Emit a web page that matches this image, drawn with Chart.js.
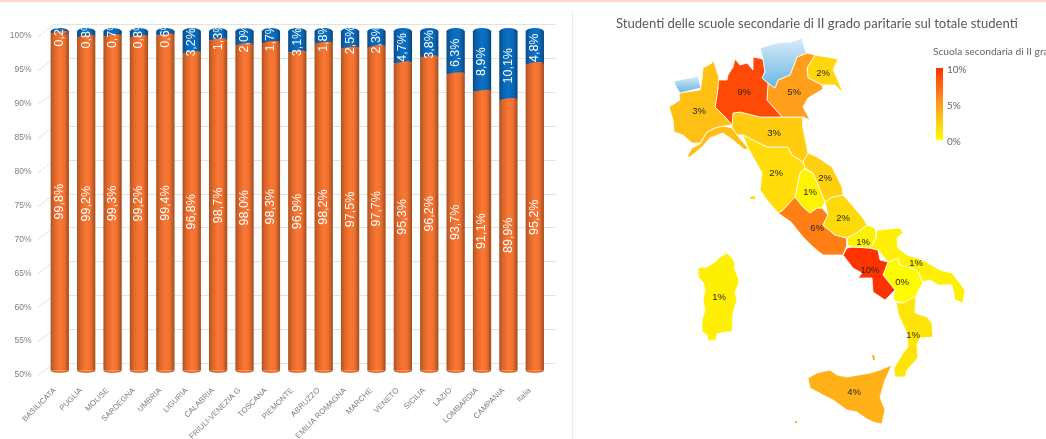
<!DOCTYPE html>
<html>
<head>
<meta charset="utf-8">
<title>Scuole secondarie paritarie</title>
<script src="https://cdnjs.cloudflare.com/ajax/libs/Chart.js/4.4.1/chart.umd.js"></script>
<style>
  html, body { margin: 0; padding: 0; background: #fff; overflow: hidden; }
  #page { position: relative; width: 1046px; height: 439px; overflow: hidden; font-family: "Liberation Sans", sans-serif; }
  #band { position: absolute; left: 0; top: 0; width: 100%; height: 2px; background: #fdd9c7; }
  #sep { position: absolute; left: 572px; top: 10px; width: 1px; height: 429px; background: #ececec; }
  #barsWrap { position: absolute; left: 0; top: 0; width: 572px; height: 439px; }
  #mapWrap { position: absolute; left: 573px; top: 0; width: 473px; height: 439px; }
  canvas { filter: blur(0.4px); }
  #mapTitle { position: absolute; left: 616px; top: 15px; font: 13.07px Lato, sans-serif; color: #595959; white-space: nowrap; }
  #legendTitle { position: absolute; left: 933px; top: 45px; font: 10.2px Lato, sans-serif; color: #666; white-space: nowrap; }
  #legendBar { position: absolute; left: 936px; top: 68px; width: 7px; height: 72px; background: linear-gradient(#ff3300, #ff9a1f 50%, #ffff00); }
  .legendTick { position: absolute; left: 947px; font: 10px Lato, sans-serif; color: #666; }
</style>
</head>
<body>
<div id="page">
  <div id="band"></div>
  <div id="sep"></div>
  <div id="barsWrap"><canvas id="bars"></canvas></div>
  <div id="mapWrap"><canvas id="map"></canvas></div>
  <div id="mapTitle"></div>
  <div id="legendTitle"></div>
  <div id="legendBar"></div>
</div>
<script>
// bar chart data
const categories = ["BASILICATA", "PUGLIA", "MOLISE", "SARDEGNA", "UMBRIA", "LIGURIA", "CALABRIA", "FRIULI-VENEZIA G",
  "TOSCANA", "PIEMONTE", "ABRUZZO", "EMILIA ROMAGNA", "MARCHE", "VENETO", "SICILIA", "LAZIO", "LOMBARDIA", "CAMPANIA", "Italia"];
const statali = [99.8, 99.2, 99.3, 99.2, 99.4, 96.8, 98.7, 98.0, 98.3, 96.9, 98.2, 97.5, 97.7, 95.3, 96.2, 93.7, 91.1, 89.9, 95.2];
const paritarie = [0.2, 0.8, 0.7, 0.8, 0.6, 3.2, 1.3, 2.0, 1.7, 3.1, 1.8, 2.5, 2.3, 4.7, 3.8, 6.3, 8.9, 10.1, 4.8];
const yTicks = [50, 55, 60, 65, 70, 75, 80, 85, 90, 95, 100];

// map data: share per region and the outlines
const mapTitle = "Studenti delle scuole secondarie di II grado paritarie sul totale studenti";
const legendTitle = "Scuola secondaria di II grado";
const legendTicks = ["10%", "5%", "0%"];
const regionShare = {
  Piemonte: 3.1, Liguria: 3.2, Lombardia: 8.9, Veneto: 4.7, Friuli: 2.0, Emilia: 2.5, Toscana: 1.7, Marche: 2.3, Umbria: 0.6,
  Abruzzo: 1.8, Lazio: 6.3, Molise: 0.7, Puglia: 0.8, Campania: 10.1, Basilicata: 0.2, Calabria: 1.3, Sardegna: 0.8, Sicilia: 3.8
};
const noData = {
  Valle: [[674,81],[690,78],[698,76],[701,88],[680,93],[676,87]],
  Trentino: [[760,48],[777,43],[792,42],[802,38],[805,50],[807,53],[797,57],[790,75],[778,80],[775,88],[768,83],[762,78],[765,72],[763,59]]
};
const outlines = {
  Piemonte: [[713,59],[719,78],[717,95],[715,107],[723,115],[732,125],[723,126],[715,128],[707,132],[700,143],[692,143],[683,135],[674,132],[673,120],[669,107],[680,100],[679,93],[700,90],[702,80],[703,68],[712,63]],
  Liguria: [[687,157],[692,148],[700,144],[707,132],[715,128],[723,126],[732,128],[737,135],[748,148],[745,150],[733,140],[723,133],[710,138],[702,147],[690,157]],
  Lombardia: [[735,59],[740,65],[747,63],[753,70],[753,57],[763,59],[765,72],[762,78],[768,83],[767,100],[782,117],[760,117],[740,112],[733,113],[732,125],[723,115],[715,107],[718,88],[717,80],[727,80],[728,75],[733,67]],
  Veneto: [[797,57],[807,53],[815,55],[807,68],[808,78],[822,85],[823,89],[808,98],[803,107],[810,120],[803,117],[782,117],[767,100],[768,83],[775,88],[778,80],[790,75]],
  Friuli: [[815,55],[838,59],[833,70],[837,78],[843,93],[835,85],[822,85],[808,78],[807,68]],
  Emilia: [[733,113],[740,112],[760,117],[782,117],[803,117],[803,128],[808,153],[803,162],[792,155],[788,147],[767,147],[743,135],[737,135],[732,128],[732,125]],
  Toscana: [[743,135],[767,147],[788,147],[792,155],[803,162],[805,168],[800,173],[797,187],[795,197],[783,210],[778,213],[767,200],[760,190],[762,173],[748,148]],
  Marche: [[803,162],[808,153],[817,157],[832,167],[842,187],[843,195],[832,197],[825,202],[818,185],[813,173],[805,168]],
  Umbria: [[802,168],[813,173],[818,185],[825,202],[822,208],[817,208],[810,213],[803,207],[795,197],[797,187],[800,173]],
  Abruzzo: [[832,197],[843,195],[852,205],[863,218],[867,225],[858,232],[847,238],[835,235],[823,225],[828,215],[825,202]],
  Lazio: [[778,213],[783,210],[793,197],[795,197],[803,207],[810,213],[817,208],[822,208],[828,215],[823,225],[835,235],[847,238],[847,245],[843,255],[823,255],[813,247],[803,237],[791,222]],
  Molise: [[858,232],[867,225],[875,228],[876,238],[870,248],[853,247],[847,245],[847,238]],
  Puglia: [[877,230],[900,228],[903,233],[897,238],[898,248],[907,255],[923,260],[940,270],[952,273],[965,290],[963,303],[955,300],[952,285],[938,285],[930,280],[923,282],[917,270],[900,265],[898,258],[888,262],[878,250],[870,248],[876,238]],
  Campania: [[847,248],[853,247],[870,248],[878,250],[880,260],[888,262],[883,275],[895,290],[885,300],[873,292],[872,278],[858,278],[862,273],[853,268],[843,255]],
  Basilicata: [[888,262],[898,258],[900,265],[917,270],[923,282],[916,296],[903,303],[893,300],[895,290],[883,275]],
  Calabria: [[896,302],[903,303],[912,298],[916,296],[915,313],[927,317],[932,323],[933,337],[920,338],[917,345],[918,358],[907,370],[905,377],[895,377],[894,368],[903,353],[908,347],[907,333],[903,325],[898,313]],
  Sardegna: [[727,253],[732,258],[735,263],[735,270],[739,280],[739,283],[735,292],[737,300],[733,313],[732,332],[725,332],[717,334],[716,340],[708,341],[707,335],[702,332],[702,320],[705,310],[703,300],[705,290],[703,282],[698,277],[698,268],[702,267],[707,267],[715,262],[720,257]],
  Sicilia: [[808,378],[817,373],[830,370],[837,375],[847,377],[870,373],[880,370],[892,365],[885,380],[880,397],[885,410],[882,424],[873,422],[867,419],[857,412],[847,410],[833,400],[823,395],[810,388]]
};
// small islands: owning region and outline
const islands = [
  ["Toscana", [[750,197],[755,196],[755,199],[750,199]]],
  ["Sicilia", [[795,421],[797,421],[797,423],[795,423]]],
  ["Sicilia", [[872,355],[874,355],[875,360],[873,360]]]
];
// where each region's label sits on the map (Liguria has none in the picture)
const labelRegions = ["Lombardia", "Piemonte", "Veneto", "Friuli", "Emilia", "Toscana", "Marche", "Umbria", "Abruzzo", "Lazio", "Molise", "Campania", "Puglia", "Basilicata", "Calabria", "Sardegna", "Sicilia"];
const labelAnchors = [[744,92],[699,111],[794,92],[823,73],[774,133],[776,173],[825,178],[810,192],[843,218],[817,228],[863,242],[870,270],[916,263],[902,282],[913,335],[719,297],[854,392]];

const BACK = 12;   // how far the rear wall sits above the axis labels
const LIFT = 4.5;  // how far the cylinders sit above the axis labels
const BAR_SHARE = 0.693;
const AXIS_FONT = "'Liberation Sans', sans-serif";

function cylinderFill(stops) {
  return (c) => {
    const xs = c.chart.scales.x;
    if (!xs || !(xs.width > 0)) return stops[2][1];
    const half = xs.width / categories.length * BAR_SHARE / 2;
    const mid = xs.getPixelForValue(c.dataIndex);
    if (!isFinite(mid)) return stops[2][1];
    const g = c.chart.ctx.createLinearGradient(mid - half, 0, mid + half, 0);
    stops.forEach((s) => g.addColorStop(s[0], s[1]));
    return g;
  };
}
const orangeStops = [[0, "#a9521f"], [0.18, "#d9652a"], [0.5, "#fb7733"], [0.75, "#ee7030"], [1, "#a04c1c"]];
const blueStops = [[0, "#0a4a86"], [0.2, "#0a62ae"], [0.5, "#0a72c6"], [0.78, "#0a66b6"], [1, "#094478"]];

const backWall = {
  id: "backWall",
  beforeDatasetsDraw(chart) {
    const ctx = chart.ctx, ys = chart.scales.y;
    ctx.save();
    ctx.strokeStyle = "#e2e2e2";
    ctx.lineWidth = 1;
    yTicks.forEach((v) => {
      const y = Math.round(ys.getPixelForValue(v)) + 0.5;
      ctx.beginPath();
      ctx.moveTo(38, y);
      ctx.lineTo(38 + 16, y - BACK);
      ctx.lineTo(556, y - BACK);
      ctx.stroke();
    });
    ctx.restore();
    // the cylinders are the library's own bars, lifted by the depth of the view
    ctx.save();
    ctx.translate(0, -LIFT);
  },
  afterDatasetsDraw(chart) {
    const ctx = chart.ctx, ys = chart.scales.y;
    const metaA = chart.getDatasetMeta(0), metaB = chart.getDatasetMeta(1);
    metaA.data.forEach((bar, i) => {
      const x = bar.x, r = bar.width / 2;
      const fillA = chart.data.datasets[0].backgroundColor({ chart, dataIndex: i });
      const fillB = chart.data.datasets[1].backgroundColor({ chart, dataIndex: i });
      // rounded foot
      ctx.fillStyle = fillA;
      ctx.beginPath();
      ctx.ellipse(x, ys.getPixelForValue(50), r, 2.5, 0, 0, Math.PI);
      ctx.fill();
      // top lid
      ctx.fillStyle = fillB;
      ctx.beginPath();
      ctx.ellipse(x, ys.getPixelForValue(100), r, 3.6, 0, 0, Math.PI * 2);
      ctx.fill();
      // join between the two segments, tilted up to the right
      ctx.fillStyle = fillA;
      ctx.beginPath();
      ctx.ellipse(x, ys.getPixelForValue(statali[i]), r, 1.7, -0.13, 0, Math.PI * 2);
      ctx.fill();
    });
    // value labels, centred on each segment and running upward
    ctx.fillStyle = "#fff";
    ctx.font = "12.5px 'Liberation Sans', sans-serif";
    ctx.textAlign = "center";
    ctx.textBaseline = "middle";
    const put = (x, y, v) => {
      ctx.save();
      ctx.translate(x, y);
      ctx.rotate(-Math.PI / 2);
      ctx.fillText(v.toFixed(1).replace(".", ",") + "%", 0, 0);
      ctx.restore();
    };
    metaA.data.forEach((bar, i) => {
      put(bar.x, ys.getPixelForValue((50 + statali[i]) / 2), statali[i]);
      put(metaB.data[i].x, ys.getPixelForValue(statali[i] + paritarie[i] / 2), paritarie[i]);
    });
    ctx.restore();
  }
};

new Chart(document.getElementById("bars"), {
  type: "bar",
  data: {
    labels: categories,
    datasets: [
      { label: "Statali", data: statali, backgroundColor: cylinderFill(orangeStops), borderWidth: 0 },
      { label: "Paritarie", data: paritarie, backgroundColor: cylinderFill(blueStops), borderWidth: 0 }
    ]
  },
  options: {
    responsive: true,
    maintainAspectRatio: false,
    animation: false,
    layout: { padding: { top: 36, right: 24, left: 0, bottom: 0 } },
    categoryPercentage: 1,
    barPercentage: BAR_SHARE,
    plugins: { legend: { display: false }, title: { display: false }, tooltip: { enabled: false } },
    scales: {
      x: {
        stacked: true,
        grid: { display: false },
        border: { display: false },
        ticks: { autoSkip: false, minRotation: 45, maxRotation: 45, color: "#808080", padding: 3, labelOffset: -5, font: { family: AXIS_FONT, size: 7.8 } },
        afterFit(scale) { scale.height = 64; }
      },
      y: {
        stacked: true,
        min: 50,
        max: 100,
        grid: { display: false },
        border: { display: false },
        ticks: { stepSize: 5, color: "#808080", padding: 7, font: { family: AXIS_FONT, size: 8.5 }, callback: (v) => v + "%" },
        afterFit(scale) { scale.width = 46.6; }
      }
    }
  },
  plugins: [backWall]
});

// colour ramp of the map, yellow at 0 to red at 10
function shareColor(v) {
  const t = Math.min(v / 10, 1);
  return "rgb(255," + Math.round(255 - 204 * t) + "," + Math.round(t < 0.5 ? 60 * t : 60 * (1 - t)) + ")";
}
const toPoints = (pts) => pts.concat([pts[0]]).map((p) => ({ x: p[0], y: p[1] }));
function shape(name, pts, color) {
  return { label: name, data: toPoints(pts), showLine: true, fill: "shape", tension: 0, pointRadius: 0, borderWidth: 0.8, borderColor: "#fff", backgroundColor: color };
}

const mapCtx = document.getElementById("map").getContext("2d");
const paleBlue = (top, bottom) => {
  const g = mapCtx.createLinearGradient(0, top, 0, bottom);
  g.addColorStop(0, "#d8ecf8");
  g.addColorStop(1, "#68b6e2");
  return g;
};

const mapSets = [
  shape("Valle", noData.Valle, paleBlue(76, 93)),
  shape("Trentino", noData.Trentino, paleBlue(38, 88))
];
Object.keys(outlines).forEach((name) => mapSets.push(shape(name, outlines[name], shareColor(regionShare[name]))));
islands.forEach((isl) => {
  const set = shape(isl[0], isl[1], shareColor(regionShare[isl[0]]));
  set.borderWidth = 0;
  mapSets.push(set);
});
mapSets.push({ label: "labels", data: labelAnchors.map((p) => ({ x: p[0], y: p[1] })), pointRadius: 0, showLine: false });

const regionLabels = {
  id: "regionLabels",
  afterDatasetsDraw(chart) {
    const ctx = chart.ctx;
    const meta = chart.getDatasetMeta(chart.data.datasets.length - 1);
    ctx.save();
    ctx.fillStyle = "#2e2810";
    ctx.font = "9.5px 'Liberation Sans', sans-serif";
    ctx.textAlign = "center";
    ctx.textBaseline = "middle";
    meta.data.forEach((pt, i) => {
      ctx.fillText(Math.round(regionShare[labelRegions[i]]) + "%", pt.x, pt.y);
    });
    ctx.restore();
  }
};

new Chart(mapCtx, {
  type: "scatter",
  data: { datasets: mapSets },
  options: {
    responsive: true,
    maintainAspectRatio: false,
    animation: false,
    layout: { padding: 0 },
    plugins: { legend: { display: false }, tooltip: { enabled: false } },
    scales: {
      x: { display: false, min: 573, max: 1046 },
      y: { display: false, min: 0, max: 439, reverse: true }
    }
  },
  plugins: [regionLabels]
});

// title and gradient key of the map
document.getElementById("mapTitle").textContent = mapTitle;
document.getElementById("legendTitle").textContent = legendTitle;
legendTicks.forEach((t, i) => {
  const el = document.createElement("div");
  el.className = "legendTick";
  el.style.top = (63 + i * 36) + "px";
  el.textContent = t;
  document.getElementById("page").appendChild(el);
});
</script>
</body>
</html>
